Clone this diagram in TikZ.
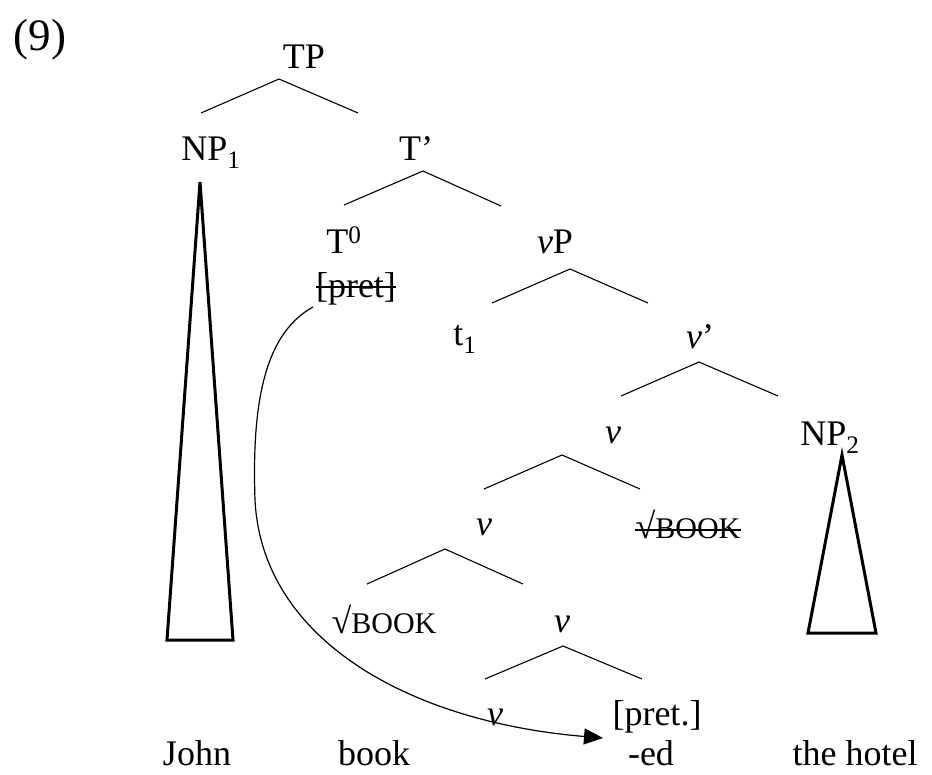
\documentclass[tikz,border=0pt]{standalone}
\usepackage{fontspec}
\setmainfont{Liberation Serif}
\usetikzlibrary{arrows.meta}
\begin{document}
\begin{tikzpicture}[x=1pt,y=-1pt,
  lab/.style={inner sep=0pt,anchor=base,font=\fontsize{36}{40}\selectfont},
  branch/.style={line width=1.1pt},
  tri/.style={line width=3pt,line join=miter},
  strike/.style={line width=1.3pt},
  move/.style={line width=1.2pt,-{Triangle[length=19pt,width=16pt]}}]
\useasboundingbox (0,0) rectangle (932,774);
\newcommand{\smc}[1]{{\fontsize{30}{34}\selectfont #1}}

% example number
\node[inner sep=0pt,anchor=base,font=\fontsize{45}{50}\selectfont] (num) at (40,50) {(9)};

% tree labels
\node[lab] (tp)    at (304,68)  {TP};
\node[lab] (np1)   at (211,160) {NP\textsubscript{1}};
\node[lab] (tbar)  at (416,160) {T’};
\node[lab] (t0)    at (344,253) {T\textsuperscript{0}};
\node[lab] (pret)  at (356,297) {[pret]};
\node[lab] (vp)    at (555,253) {\textit{v}P};
\node[lab] (t1)    at (465,345) {t\textsubscript{1}};
\node[lab] (vbar)  at (700,348) {\textit{v}’};
\node[lab] (va)    at (613,443) {\textit{v}};
\node[lab] (np2)   at (830,445) {NP\textsubscript{2}};
\node[lab] (vb)    at (484,535) {\textit{v}};
\node[lab] (rootx) at (688,538) {√\smc{BOOK}};
\node[lab] (root)  at (384,633) {√\smc{BOOK}};
\node[lab] (vc)    at (562,632) {\textit{v}};
\node[lab] (vd)    at (495,725) {\textit{v}};
\node[lab] (preta) at (657,725) {[pret.]};

% words
\node[lab] (john)  at (197,765) {John};
\node[lab] (book)  at (374,765) {book};
\node[lab] (ed)    at (651,765) {-ed};
\node[lab] (hotel) at (855,765) {the hotel};

% strike-through of deleted material
\draw[strike] (pret.west |- 0,287) -- (pret.east |- 0,287);
\draw[strike] (rootx.west |- 0,530) -- (rootx.east |- 0,530);

% branch points
\coordinate (tpA) at (279,79);  \coordinate (tpL) at (201,113); \coordinate (tpR) at (358,113);
\coordinate (tbA) at (423,171); \coordinate (tbL) at (344,205); \coordinate (tbR) at (501,206);
\coordinate (vpA) at (570,269); \coordinate (vpL) at (492,303); \coordinate (vpR) at (648,303);
\coordinate (vbA) at (699,362); \coordinate (vbL) at (621,396); \coordinate (vbR) at (778,396);
\coordinate (vaA) at (562,455); \coordinate (vaL) at (484,489); \coordinate (vaR) at (640,489);
\coordinate (vbbA) at (445,549); \coordinate (vbbL) at (367,584); \coordinate (vbbR) at (523,584);
\coordinate (vcA) at (563,646); \coordinate (vcL) at (485,679); \coordinate (vcR) at (642,679);

\draw[branch] (tpL) -- (tpA) -- (tpR);
\draw[branch] (tbL) -- (tbA) -- (tbR);
\draw[branch] (vpL) -- (vpA) -- (vpR);
\draw[branch] (vbL) -- (vbA) -- (vbR);
\draw[branch] (vaL) -- (vaA) -- (vaR);
\draw[branch] (vbbL) -- (vbbA) -- (vbbR);
\draw[branch] (vcL) -- (vcA) -- (vcR);

% triangles
\draw[tri] (200,182) -- (233,640) -- (167,640) -- cycle;
\draw[tri] (842,455) -- (876,633) -- (808,633) -- cycle;

% lowering of [pret]
\coordinate (mvS) at (313,307);
\coordinate (mvM) at (255,500);
\coordinate (mvE) at (603,738);
\draw[move] (mvS) .. controls (262,335) and (252,410) .. (mvM)
  .. controls (262,640) and (410,722) .. (mvE);
\end{tikzpicture}
\end{document}
